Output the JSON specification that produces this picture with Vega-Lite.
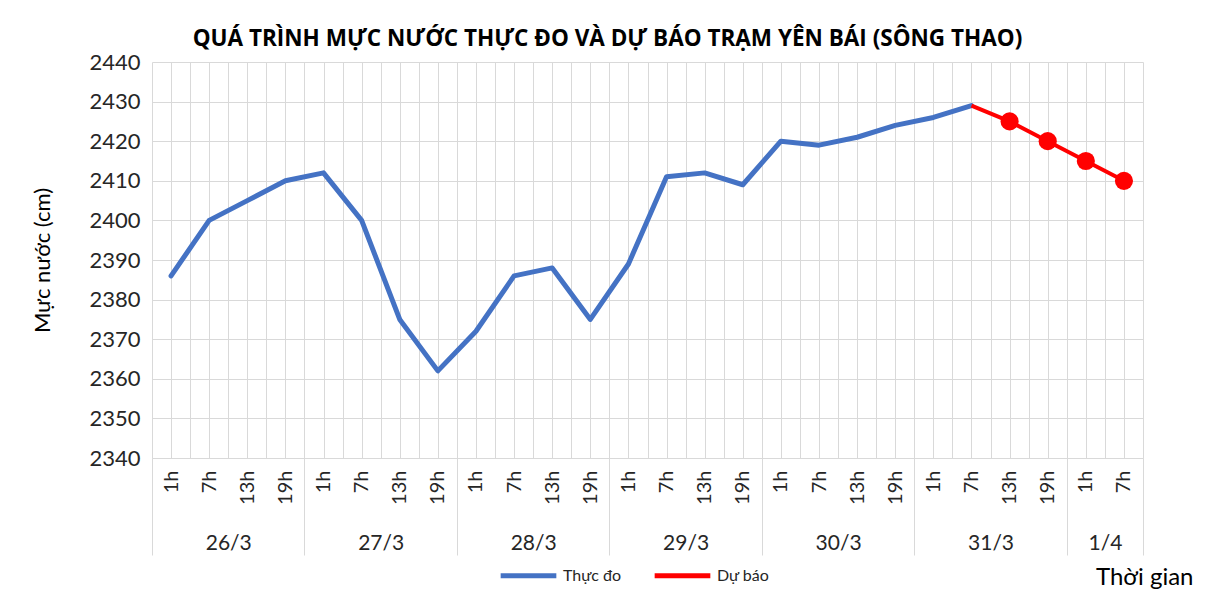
{
  "$schema": "https://vega.github.io/schema/vega-lite/v6.json",
  "width": 991,
  "height": 396,
  "autosize": "none",
  "padding": {"left": 152, "top": 62, "right": 74, "bottom": 135},
  "background": "white",
  "config": {
    "font": "Lato",
    "view": {"stroke": null}
  },
  "title": {
    "text": "QUÁ TRÌNH MỰC NƯỚC THỰC ĐO VÀ DỰ BÁO TRẠM YÊN BÁI (SÔNG THAO)",
    "font": "Open Sans",
    "fontSize": 22.5,
    "fontWeight": "bold",
    "color": "#000000",
    "anchor": "middle",
    "dx": -40,
    "offset": 1
  },
  "data": {
    "values": [
      {"i": 0, "value": 2386, "series": "Thực đo"},
      {"i": 1, "value": 2400, "series": "Thực đo"},
      {"i": 2, "value": 2405, "series": "Thực đo"},
      {"i": 3, "value": 2410, "series": "Thực đo"},
      {"i": 4, "value": 2412, "series": "Thực đo"},
      {"i": 5, "value": 2400, "series": "Thực đo"},
      {"i": 6, "value": 2375, "series": "Thực đo"},
      {"i": 7, "value": 2362, "series": "Thực đo"},
      {"i": 8, "value": 2372, "series": "Thực đo"},
      {"i": 9, "value": 2386, "series": "Thực đo"},
      {"i": 10, "value": 2388, "series": "Thực đo"},
      {"i": 11, "value": 2375, "series": "Thực đo"},
      {"i": 12, "value": 2389, "series": "Thực đo"},
      {"i": 13, "value": 2411, "series": "Thực đo"},
      {"i": 14, "value": 2412, "series": "Thực đo"},
      {"i": 15, "value": 2409, "series": "Thực đo"},
      {"i": 16, "value": 2420, "series": "Thực đo"},
      {"i": 17, "value": 2419, "series": "Thực đo"},
      {"i": 18, "value": 2421, "series": "Thực đo"},
      {"i": 19, "value": 2424, "series": "Thực đo"},
      {"i": 20, "value": 2426, "series": "Thực đo"},
      {"i": 21, "value": 2429, "series": "Thực đo"},
      {"i": 21, "value": 2429, "series": "Dự báo"},
      {"i": 22, "value": 2425, "series": "Dự báo"},
      {"i": 23, "value": 2420, "series": "Dự báo"},
      {"i": 24, "value": 2415, "series": "Dự báo"},
      {"i": 25, "value": 2410, "series": "Dự báo"}
    ]
  },
  "encoding": {
    "y": {
      "field": "value", "type": "quantitative",
      "scale": {"domain": [2340, 2440], "nice": false, "zero": false},
      "axis": {
        "values": [2340,2350,2360,2370,2380,2390,2400,2410,2420,2430,2440],
        "format": "d",
        "labelFontSize": 22,
        "labelColor": "#262626",
        "labelPadding": 12,
        "ticks": false,
        "domain": false,
        "grid": true,
        "gridColor": "#d9d9d9",
        "title": "Mực nước (cm)",
        "titleFontSize": 22,
        "titleFontWeight": "normal",
        "titleColor": "#000000",
        "titleAngle": 270,
        "titleX": -110,
        "titleY": 198,
        "titleAlign": "center",
        "titleBaseline": "middle"
      }
    }
  },
  "layer": [
    {
      "transform": [{"filter": "datum.series === 'Thực đo'"}],
      "mark": {"type": "line", "strokeWidth": 5, "strokeCap": "round", "strokeJoin": "round"},
      "encoding": {
        "x": {
          "field": "i", "type": "quantitative",
          "scale": {"domain": [-0.5, 25.5], "nice": false, "zero": false},
          "axis": {
            "orient": "bottom",
            "values": [-0.5,0,0.5,1,1.5,2,2.5,3,3.5,4,4.5,5,5.5,6,6.5,7,7.5,8,8.5,9,9.5,10,10.5,11,11.5,12,12.5,13,13.5,14,14.5,15,15.5,16,16.5,17,17.5,18,18.5,19,19.5,20,20.5,21,21.5,22,22.5,23,23.5,24,24.5,25,25.5],
            "labelExpr": "datum.value % 1 === 0 ? ['1h','7h','13h','19h'][datum.value % 4] : ''",
            "labelAngle": 270,
            "labelPadding": 12,
            "labelFontSize": 20,
            "labelColor": "#262626",
            "labelOverlap": false,
            "labelFlush": false,
            "labelBound": false,
            "ticks": false,
            "grid": true,
            "gridColor": "#d9d9d9",
            "gridWidth": 1,
            "domain": true,
            "domainColor": "#d9d9d9",
            "title": null
          }
        },
        "color": {
          "field": "series", "type": "nominal",
          "scale": {"domain": ["Thực đo", "Dự báo"], "range": ["#4472C4", "#FF0000"]},
          "legend": {
            "orient": "none",
            "direction": "horizontal",
            "legendX": 346,
            "legendY": 483,
            "title": null,
            "symbolType": "stroke",
            "symbolStrokeWidth": 5,
            "symbolSize": 3100,
            "labelFontSize": 16,
            "labelColor": "#262626",
            "labelOffset": 4,
            "columnPadding": 22
          }
        }
      }
    },
    {
      "transform": [{"filter": "datum.series === 'Dự báo'"}],
      "mark": {"type": "line", "strokeWidth": 4},
      "encoding": {
        "x": {
          "field": "i", "type": "quantitative",
          "axis": {
            "orient": "bottom",
            "values": [-0.5, 3.5, 7.5, 11.5, 15.5, 19.5, 23.5, 25.5],
            "labels": false,
            "grid": false,
            "domain": false,
            "ticks": true,
            "tickSize": 97,
            "tickColor": "#d9d9d9",
            "tickWidth": 1,
            "title": "Thời gian",
            "titleFontSize": 24,
            "titleFontWeight": "normal",
            "titleColor": "#000000",
            "titleX": 1041,
            "titleY": 126,
            "titleAlign": "right",
            "titleBaseline": "alphabetic",
            "titleAnchor": null
          }
        },
        "color": {"field": "series", "type": "nominal"}
      }
    },
    {
      "transform": [{"filter": "datum.series === 'Dự báo' && datum.i > 21"}],
      "mark": {"type": "circle", "size": 330, "color": "#FF0000", "opacity": 1},
      "encoding": {
        "x": {
          "field": "i", "type": "quantitative",
          "axis": {
            "orient": "bottom",
            "values": [1.5, 5.5, 9.5, 13.5, 17.5, 21.5, 24.5],
            "labelExpr": "['26/3','27/3','28/3','29/3','30/3','31/3','1/4'][floor(datum.value / 4)]",
            "labelAngle": 0,
            "labelPadding": 74,
            "labelFontSize": 21,
            "labelColor": "#262626",
            "labelOverlap": false,
            "labelFlush": false,
            "labelBound": false,
            "ticks": false,
            "grid": false,
            "domain": false,
            "title": null
          }
        }
      }
    }
  ],
  "resolve": {"axis": {"x": "independent"}}
}
